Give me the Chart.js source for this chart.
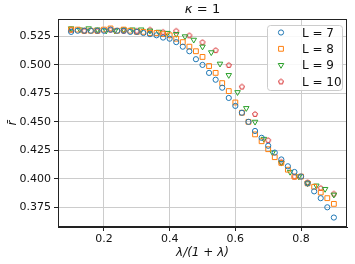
<!DOCTYPE html>
<html>
<head>
<meta charset="utf-8">
<script src="https://cdn.jsdelivr.net/npm/chart.js@4.4.1/dist/chart.umd.min.js"></script>
<style>
html,body{margin:0;padding:0;background:#fff;}
#wrap{width:355px;height:264px;position:relative;}
</style>
</head>
<body>
<div id="wrap"><canvas id="chart" width="355" height="264"></canvas></div>
<script>
// x positions (lambda/(1+lambda)) and mean r for each system size
const xFine = [0.10,0.12,0.14,0.16,0.18,0.20,0.22,0.24,0.26,0.28,0.30,0.32,0.34,0.36,0.38,0.40,0.42,0.44,0.46,0.48,0.50,0.52,0.54,0.56,0.58,0.60,0.62,0.64,0.66,0.68,0.70,0.72,0.74,0.76,0.78,0.80,0.82,0.84,0.86,0.88,0.90];
const rL7 = [0.529,0.530,0.530,0.530,0.530,0.530,0.531,0.530,0.530,0.529,0.529,0.528,0.527,0.526,0.524,0.523,0.520,0.516,0.512,0.505,0.500,0.493,0.487,0.480,0.471,0.464,0.458,0.450,0.442,0.436,0.429,0.423,0.417,0.411,0.406,0.402,0.396,0.389,0.383,0.375,0.366];
const rL8 = [0.531,0.531,0.530,0.530,0.530,0.531,0.532,0.530,0.531,0.530,0.529,0.529,0.528,0.528,0.527,0.526,0.523,0.520,0.516,0.512,0.507,0.499,0.493,0.484,0.477,0.467,0.458,0.450,0.439,0.433,0.426,0.419,0.414,0.408,0.402,0.402,0.396,0.393,0.388,0.383,0.378];
const xL9 = [0.1000,0.1267,0.1533,0.1800,0.2067,0.2333,0.2600,0.2867,0.3133,0.3400,0.3667,0.3933,0.4200,0.4467,0.4733,0.5000,0.5267,0.5533,0.5800,0.6067,0.6333,0.6600,0.6867,0.7133,0.7400,0.7667,0.7933,0.8200,0.8467,0.8733,0.9000];
const rL9 = [0.532,0.531,0.532,0.531,0.530,0.530,0.531,0.531,0.531,0.530,0.529,0.528,0.527,0.525,0.522,0.516,0.511,0.501,0.491,0.476,0.462,0.450,0.435,0.423,0.414,0.406,0.402,0.396,0.394,0.391,0.386];
const xL10 = [0.10,0.14,0.18,0.22,0.26,0.30,0.34,0.38,0.42,0.46,0.50,0.54,0.58,0.62,0.66,0.70,0.74,0.78,0.82,0.86,0.90];
const rL10 = [0.531,0.530,0.530,0.531,0.530,0.530,0.531,0.529,0.530,0.526,0.520,0.513,0.500,0.481,0.457,0.434,0.415,0.402,0.397,0.392,0.387];

const seriesLabels = ["L = 7","L = 8","L = 9","L = 10"];
const xTicks = [0.2,0.4,0.6,0.8];
const yTicks = [0.375,0.400,0.425,0.450,0.475,0.500,0.525];

const blue = "#1f77b4", orange = "#ff7f0e", green = "#2ca02c", red = "#d62728";
const FONT = "'DejaVu Sans', sans-serif";

function pentagon(color){
  const c = document.createElement("canvas");
  c.width = 8; c.height = 8;
  const g = c.getContext("2d");
  g.strokeStyle = color;
  g.lineWidth = 1;
  g.beginPath();
  for(let i=0;i<5;i++){
    const a = -Math.PI/2 + i*2*Math.PI/5;
    const px = 4 + 2.6*Math.cos(a), py = 4.3 + 2.6*Math.sin(a);
    if(i===0) g.moveTo(px,py); else g.lineTo(px,py);
  }
  g.closePath();
  g.stroke();
  return c;
}
const pentRed = pentagon(red);

function pts(xs, ys){
  return xs.map((x,i)=>({x:x, y:ys[i]}));
}

const datasets = [
  {label:seriesLabels[0], data:pts(xFine,rL7), pointStyle:"circle", pointRadius:2.6, borderColor:blue},
  {label:seriesLabels[1], data:pts(xFine,rL8), pointStyle:"rect", pointRadius:3.4, borderColor:orange},
  {label:seriesLabels[2], data:pts(xL9,rL9), pointStyle:"triangle", rotation:180, pointRadius:3.2, borderColor:green},
  {label:seriesLabels[3], data:pts(xL10,rL10), pointStyle:pentRed, pointRadius:3, borderColor:red}
].map(d=>Object.assign({
  showLine:false,
  backgroundColor:"rgba(0,0,0,0)",
  pointBorderWidth:1,
  pointHoverRadius:3
}, d));

const deco = {
  id:"deco",
  afterDraw(chart){
    const ctx = chart.ctx;
    const a = chart.chartArea;
    ctx.save();
    // frame
    ctx.strokeStyle = "#222";
    ctx.lineWidth = 1;
    ctx.strokeRect(a.left+0.5, a.top+0.5, a.right-a.left-1, a.bottom-a.top-1);
    // title
    ctx.fillStyle = "#111";
    ctx.textAlign = "center";
    ctx.textBaseline = "middle";
    ctx.font = "italic 13px " + FONT;
    const cx = (a.left+a.right)/2;
    ctx.fillText("\u03ba", cx-14, 10);
    ctx.font = "13px " + FONT;
    ctx.fillText("= 1", cx+6, 10);
    // x title
    ctx.font = "italic 12px " + FONT;
    ctx.fillText("\u03bb/(1 + \u03bb)", cx, 253);
    // y title
    ctx.save();
    ctx.translate(13, (a.top+a.bottom)/2);
    ctx.rotate(-Math.PI/2);
    ctx.font = "italic 12px " + FONT;
    ctx.fillText("r\u0304", 0, 0);
    ctx.restore();
    // legend
    const lx = 267, ly = 25, lw = 75, lh = 65;
    ctx.fillStyle = "rgba(255,255,255,0.85)";
    ctx.strokeStyle = "#cccccc";
    ctx.beginPath();
    ctx.roundRect(lx+0.5, ly+0.5, lw, lh, 3);
    ctx.fill();
    ctx.stroke();
    ctx.textAlign = "left";
    ctx.font = "12px " + FONT;
    chart.data.datasets.forEach((ds,i)=>{
      const y = 32.5 + i*16.3;
      ctx.fillStyle = "rgba(0,0,0,0)";
      ctx.strokeStyle = ds.borderColor;
      ctx.lineWidth = 1;
      Chart.helpers.drawPoint(ctx, {
        pointStyle: ds.pointStyle, radius: ds.pointRadius, rotation: ds.rotation || 0, borderWidth: 1
      }, 281, y);
      ctx.fillStyle = "#111";
      ctx.fillText(ds.label, 302, y+1);
    });
    ctx.restore();
  }
};

new Chart(document.getElementById("chart"), {
  type:"scatter",
  data:{datasets},
  options:{
    responsive:false,
    animation:false,
    devicePixelRatio:1,
    layout:{padding:{top:19, right:8, left:0, bottom:0}},
    plugins:{legend:{display:false}, title:{display:false}, tooltip:{enabled:false}},
    scales:{
      x:{
        type:"linear",
        min:0.06, max:0.94,
        afterBuildTicks(s){ s.ticks = xTicks.map(v=>({value:v})); },
        afterFit(s){ s.height = 37; },
        grid:{color:"#cccccc", lineWidth:1, tickLength:4, tickColor:"#222", drawOnChartArea:true},
        border:{color:"#222"},
        ticks:{color:"#111", font:{family:FONT, size:11}, padding:2, maxRotation:0,
          callback:v=>Number(v).toFixed(1)}
      },
      y:{
        type:"linear",
        min:0.3577, max:0.5403,
        afterBuildTicks(s){ s.ticks = yTicks.map(v=>({value:v})); },
        afterFit(s){ s.width = 58; },
        grid:{color:"#cccccc", lineWidth:1, tickLength:4, tickColor:"#222"},
        border:{color:"#222"},
        ticks:{color:"#111", font:{family:FONT, size:11}, padding:3,
          callback:v=>Number(v).toFixed(3)}
      }
    }
  },
  plugins:[deco]
});
</script>
</body>
</html>
